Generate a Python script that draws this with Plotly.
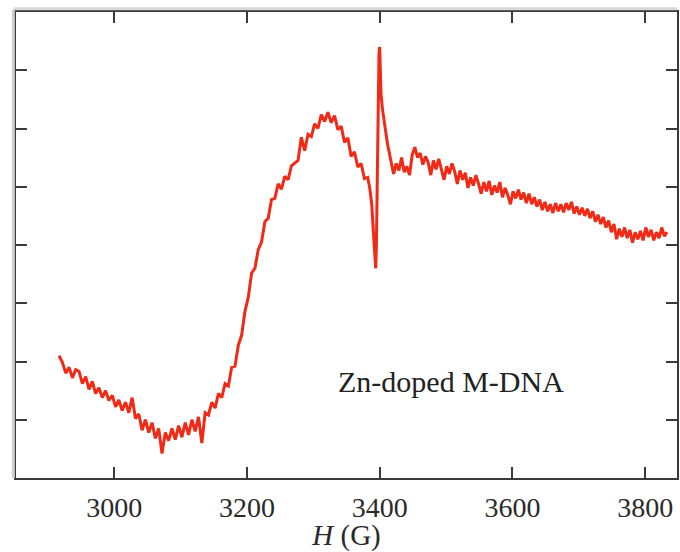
import plotly.graph_objects as go

field_G = [
    2917, 2922, 2927, 2932, 2937, 2942, 2947, 2952, 2957, 2962, 2967, 2972, 2977, 2982, 2987, 2992, 2997,
    3002, 3007, 3012, 3017, 3022, 3027, 3032, 3037, 3042, 3047, 3052, 3057, 3062, 3067, 3072, 3077, 3082,
    3087, 3092, 3097, 3102, 3107, 3112, 3117, 3122, 3127, 3132, 3137, 3142, 3147, 3152, 3157, 3162, 3167,
    3172, 3177, 3182, 3187, 3192, 3197, 3202, 3207, 3212, 3217, 3222, 3227, 3232, 3237, 3242, 3247, 3252,
    3257, 3262, 3267, 3272, 3277, 3282, 3287, 3292, 3297, 3302, 3307, 3312, 3317, 3322, 3327, 3332, 3337,
    3342, 3347, 3352, 3357, 3362, 3367, 3372, 3377, 3382, 3385, 3388, 3390, 3392, 3394, 3395, 3396, 3397,
    3398, 3399, 3400, 3401, 3402, 3404, 3406, 3409, 3412, 3415, 3418, 3421, 3425, 3429, 3433, 3437, 3441,
    3445, 3449, 3453, 3457, 3461, 3465, 3469, 3473, 3477, 3481, 3485, 3489, 3493, 3497, 3501, 3505, 3509,
    3513, 3517, 3521, 3525, 3529, 3533, 3537, 3541, 3545, 3549, 3553, 3557, 3561, 3565, 3569, 3573, 3577,
    3581, 3585, 3589, 3593, 3597, 3601, 3605, 3609, 3613, 3617, 3621, 3625, 3629, 3633, 3637, 3641, 3645,
    3649, 3653, 3657, 3661, 3665, 3669, 3673, 3677, 3681, 3685, 3689, 3693, 3697, 3701, 3705, 3709, 3713,
    3717, 3721, 3725, 3729, 3733, 3737, 3741, 3745, 3749, 3753, 3757, 3761, 3765, 3769, 3773, 3777, 3781,
    3785, 3789, 3793, 3797, 3801, 3805, 3809, 3813, 3817, 3821, 3825, 3829, 3833,
]

signal = [
    1.10, 0.98, 0.80, 0.90, 0.72, 0.86, 0.83, 0.62, 0.74, 0.52, 0.66, 0.45, 0.55, 0.38, 0.50, 0.33, 0.42,
    0.22, 0.34, 0.16, 0.30, 0.12, 0.38, 0.02, 0.10, -0.18, 0.00, -0.22, -0.05, -0.32, -0.15, -0.58, -0.22, -0.36,
    -0.15, -0.34, -0.10, -0.30, -0.05, -0.26, 0.00, -0.20, 0.05, -0.40, 0.12, 0.08, 0.30, 0.20, 0.45, 0.38, 0.62,
    0.58, 0.90, 0.92, 1.28, 1.45, 1.86, 2.10, 2.52, 2.60, 2.92, 3.05, 3.40, 3.46, 3.78, 3.80, 4.05, 3.96,
    4.18, 4.12, 4.36, 4.40, 4.45, 4.85, 4.62, 4.90, 4.86, 5.08, 5.00, 5.24, 5.12, 5.28, 5.10, 5.22, 4.98,
    5.04, 4.76, 4.84, 4.52, 4.60, 4.34, 4.40, 4.14, 4.16, 3.98, 3.70, 3.40, 2.95, 2.60, 2.95, 3.80, 4.70,
    5.70, 6.30, 6.40, 6.10, 5.60, 5.35, 5.15, 4.95, 4.72, 4.55, 4.40, 4.22, 4.40, 4.28, 4.50, 4.25, 4.35,
    4.20, 4.55, 4.68, 4.50, 4.58, 4.38, 4.52, 4.42, 4.20, 4.45, 4.30, 4.48, 4.30, 4.12, 4.35, 4.22, 4.40,
    4.26, 4.05, 4.28, 4.12, 4.24, 3.98, 4.16, 4.02, 4.20, 4.05, 3.88, 4.08, 3.92, 4.10, 3.86, 4.02, 3.90,
    4.08, 3.82, 3.98, 3.86, 3.70, 3.92, 3.80, 3.95, 3.78, 3.90, 3.72, 3.88, 3.70, 3.82, 3.66, 3.78, 3.60,
    3.74, 3.58, 3.70, 3.55, 3.72, 3.58, 3.70, 3.56, 3.72, 3.60, 3.74, 3.54, 3.66, 3.52, 3.64, 3.50, 3.62,
    3.46, 3.58, 3.40, 3.52, 3.36, 3.48, 3.30, 3.42, 3.22, 3.36, 3.10, 3.28, 3.14, 3.30, 3.12, 3.26, 3.04,
    3.22, 3.10, 3.24, 3.08, 3.30, 3.14, 3.26, 3.08, 3.22, 3.12, 3.30, 3.15, 3.22,
]

x_ticks = [3000, 3200, 3400, 3600, 3800]
y_ticks = [0, 1, 2, 3, 4, 5, 6]
label = "Zn-doped M-DNA"

serif = "Liberation Serif, DejaVu Serif, serif"
axis_color = "#3a3a3a"

fig = go.Figure()
fig.add_trace(go.Scatter(
    x=field_G, y=signal, mode="lines",
    line=dict(color="rgb(240,42,22)", width=3),
    hoverinfo="skip", showlegend=False,
))

fig.add_annotation(
    x=3507, y=0.66, xref="x", yref="y", text=label, showarrow=False,
    font=dict(family=serif, size=30, color="#222"),
)

fig.update_xaxes(
    range=[2852, 3848], tickvals=x_ticks, ticktext=[str(v) for v in x_ticks],
    ticks="inside", ticklen=11, tickwidth=1.5, tickcolor=axis_color,
    showline=True, linecolor=axis_color, linewidth=1.8, mirror="ticks",
    showgrid=False, zeroline=False, ticklabelstandoff=3,
    tickfont=dict(family=serif, size=28, color="#2a2a2a"),
    title=dict(text="<i>H</i> (G)", font=dict(family=serif, size=29, color="#2a2a2a"), standoff=2),
)
fig.update_yaxes(
    range=[-1, 7], tickvals=y_ticks, showticklabels=False,
    ticks="inside", ticklen=11, tickwidth=1.5, tickcolor=axis_color,
    showline=True, linecolor=axis_color, linewidth=1.8, mirror="ticks",
    showgrid=False, zeroline=False,
)

# faint shadow along top and left frame edges
fig.add_shape(type="line", xref="paper", yref="paper", x0=-0.004, x1=-0.004, y0=0, y1=1.005,
              line=dict(color="#cfcfcf", width=3))
fig.add_shape(type="line", xref="paper", yref="paper", x0=-0.004, x1=1, y0=1.007, y1=1.007,
              line=dict(color="#d8d8d8", width=3))

fig.update_layout(
    width=680, height=552,
    margin=dict(l=16, r=1, t=12, b=74),
    paper_bgcolor="white", plot_bgcolor="white",
)

fig.write_html("out.html")
